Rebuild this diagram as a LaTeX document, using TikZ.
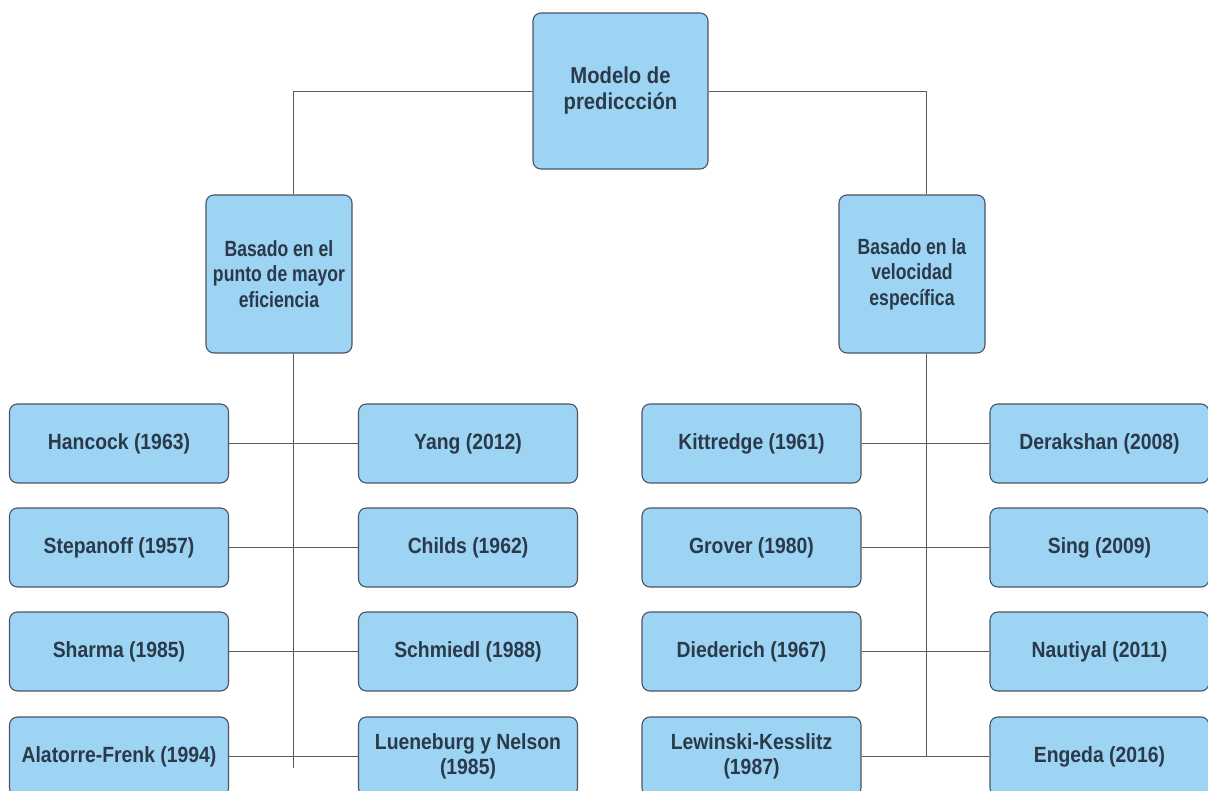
\documentclass[tikz,border=0pt]{standalone}
\usepackage{fontspec}
\setmainfont{Liberation Sans}[FakeStretch=0.88]
\newfontfamily\midfont{Liberation Sans}[FakeStretch=0.8]
\usetikzlibrary{calc}
\definecolor{boxfill}{HTML}{9DD3F3}
\definecolor{boxline}{HTML}{4A5663}
\definecolor{txt}{HTML}{2A3A4A}
\definecolor{conn}{HTML}{5A5A5A}
\begin{document}
\begin{tikzpicture}[x=1pt,y=-1pt,
  box/.style={draw=boxline,fill=boxfill,line width=1.1pt,rounded corners=8pt,
    text=txt,font=\fontsize{22}{25}\selectfont\bfseries,align=center,inner sep=2pt},
  topbox/.style={box,minimum width=175pt,minimum height=156pt,font=\fontsize{23}{26}\selectfont\bfseries},
  midbox/.style={box,minimum width=146pt,minimum height=158pt,font=\midfont\fontsize{22}{25.5}\selectfont\bfseries},
  leaf/.style={box,minimum width=219pt,minimum height=79pt},
  conn/.style={draw=conn,line width=0.9pt}]
\useasboundingbox (0,0) rectangle (1208,791);
\fill[white] (0,0) rectangle (1208,791);
% top and mid
\node[topbox] (top) at (620.5,91) {Modelo de\\prediccción};
\node[midbox] (lmid) at (279,274) {Basado en el\\punto de mayor\\eficiencia};
\node[midbox] (rmid) at (912,274) {Basado en la\\velocidad\\específica};
% leaves
\node[leaf] (a1) at (119,443.5) {Hancock (1963)};
\node[leaf] (a2) at (119,547.5) {Stepanoff (1957)};
\node[leaf] (a3) at (119,651.5) {Sharma (1985)};
\node[leaf] (a4) at (119,756.5) {Alatorre-Frenk (1994)};
\node[leaf] (b1) at (468,443.5) {Yang (2012)};
\node[leaf] (b2) at (468,547.5) {Childs (1962)};
\node[leaf] (b3) at (468,651.5) {Schmiedl (1988)};
\node[leaf] (b4) at (468,756.5) {Lueneburg y Nelson\\(1985)};
\node[leaf] (c1) at (751.5,443.5) {Kittredge (1961)};
\node[leaf] (c2) at (751.5,547.5) {Grover (1980)};
\node[leaf] (c3) at (751.5,651.5) {Diederich (1967)};
\node[leaf] (c4) at (751.5,756.5) {Lewinski-Kesslitz\\(1987)};
\node[leaf] (d1) at (1099.5,443.5) {Derakshan (2008)};
\node[leaf] (d2) at (1099.5,547.5) {Sing (2009)};
\node[leaf] (d3) at (1099.5,651.5) {Nautiyal (2011)};
\node[leaf] (d4) at (1099.5,756.5) {Engeda (2016)};
% connectors
\coordinate (ltop) at ($(lmid.north)+(14,0)$);
\coordinate (rtop) at ($(rmid.north)+(14,0)$);
\coordinate (lbot) at ($(lmid.south)+(14,0)$);
\coordinate (rbot) at ($(rmid.south)+(14,0)$);
\coordinate (lend) at (293,768);
\coordinate (rend) at (926,757);
\draw[conn] (top.west) -| (ltop);
\draw[conn] (top.east) -| (rtop);
\draw[conn] (lbot) -- (lend);
\draw[conn] (rbot) -- (rend);
\draw[conn] (a1.east) -- (b1.west);
\draw[conn] (a2.east) -- (b2.west);
\draw[conn] (a3.east) -- (b3.west);
\draw[conn] (a4.east) -- (b4.west);
\draw[conn] (c1.east) -- (d1.west);
\draw[conn] (c2.east) -- (d2.west);
\draw[conn] (c3.east) -- (d3.west);
\draw[conn] (c4.east) -- (d4.west);
\end{tikzpicture}
\end{document}
